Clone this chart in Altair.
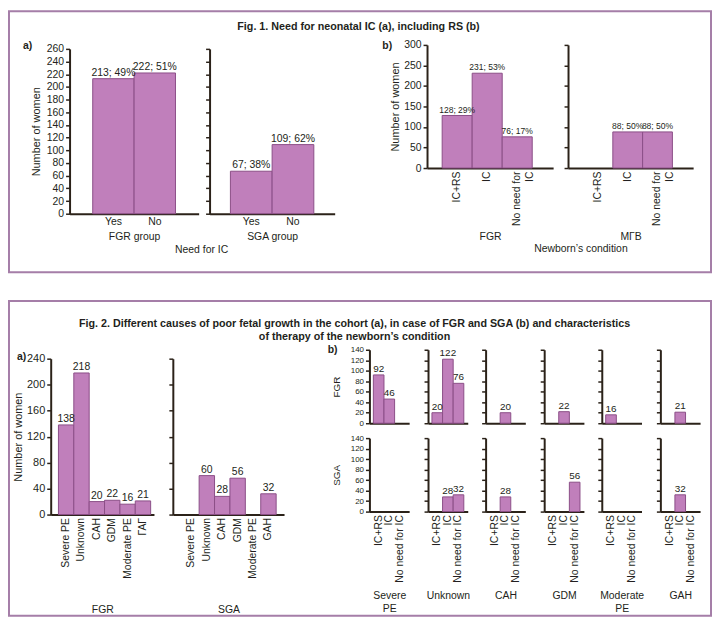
import altair as alt
import pandas as pd

# ---------------- data ----------------
fig1a_cats = ["Yes", "No"]
fig1a_fgr_n = [213, 222]
fig1a_fgr_pct = [49, 51]
fig1a_sga_n = [67, 109]
fig1a_sga_pct = [38, 62]

fig1b_cats = ["IC+RS", "IC", "No need for IC"]
fig1b_fgr_n = [128, 231, 76]
fig1b_fgr_pct = [29, 53, 17]
fig1b_mgv_n = [0, 88, 88]
fig1b_mgv_pct = [0, 50, 50]

fig2a_fgr_cats = ["Severe PE", "Unknown", "CAH", "GDM", "Moderate PE", "ГАГ"]
fig2a_fgr_n = [138, 218, 20, 22, 16, 21]
fig2a_sga_cats = ["Severe PE", "Unknown", "CAH", "GDM", "Moderate PE", "GAH"]
fig2a_sga_n = [0, 60, 28, 56, 0, 32]

fig2b_causes = ["Severe PE", "Unknown", "CAH", "GDM", "Moderate PE", "GAH"]
fig2b_cause_titles = [["Severe", "PE"], "Unknown", "CAH", "GDM", ["Moderate", "PE"], "GAH"]
fig2b_therapy = ["IC+RS", "IC", "No need for IC"]
fig2b_fgr_n = [[92, 46, 0], [20, 122, 76], [0, 20, 0], [0, 22, 0], [16, 0, 0], [0, 21, 0]]
fig2b_sga_n = [[0, 0, 0], [0, 28, 32], [0, 28, 0], [0, 0, 56], [0, 0, 0], [0, 32, 0]]

# ---------------- style ----------------
FONT = "Liberation Sans"
BAR_FILL = "#c07fbb"
BAR_STROKE = "#8b4f87"
AXIS = "#2b2219"
TEXT = "#231f20"
BORDER = "#a57ea8"

ONE = pd.DataFrame({"k": [0]})


def pct_labels(ns, ps):
    return [f"{n}; {p}%" for n, p in zip(ns, ps)]


def panel(cats, vals, labels, w, h, ymax, ystep, po=0.5, align=0.5, ylabels=True,
          ytitle=None, ytitle_pad=6, ytitle_size=11, xlabels=True, xangle=0, xtitle=None,
          xtitle_pad=4, label_expr=None, val_size=10.5, tick_size=10.5):
    df = pd.DataFrame({"cat": cats, "value": vals, "label": labels})
    xkw = dict(title=xtitle, labels=xlabels, ticks=False, labelAngle=xangle,
               titlePadding=xtitle_pad, domainWidth=2, domainColor=AXIS,
               labelFontSize=10.5, labelColor=TEXT, labelPadding=3,
               titleFontSize=10.5, titleFontWeight="normal", titleColor=TEXT,
               titleLineHeight=13)
    if label_expr:
        xkw["labelExpr"] = label_expr
    x = alt.X("cat:N", sort=cats,
              scale=alt.Scale(domain=cats, paddingInner=0, paddingOuter=po, align=align),
              axis=alt.Axis(**xkw))
    y = alt.Y("value:Q",
              scale=alt.Scale(domain=[0, ymax], nice=False, zero=True),
              axis=alt.Axis(values=list(range(0, ymax + 1, ystep)), labels=ylabels,
                            title=ytitle, titlePadding=ytitle_pad, tickSize=4, tickWidth=1.5,
                            tickColor=AXIS, domainWidth=2, domainColor=AXIS, grid=False,
                            labelFontSize=tick_size, labelColor=TEXT, labelPadding=2,
                            titleFontSize=ytitle_size, titleFontWeight="normal",
                            titleColor=TEXT))
    base = alt.Chart(df).encode(x=x, y=y).transform_filter("datum.value > 0")
    bars = base.mark_bar(fill=BAR_FILL, stroke=BAR_STROKE, strokeWidth=1)
    txt = base.mark_text(baseline="bottom", dy=-1, fontSize=val_size, color=TEXT,
                         font=FONT).encode(text="label:N")
    return alt.layer(bars, txt).properties(width=w, height=h)


def spacer(w, h):
    return alt.Chart(ONE).mark_point(opacity=0, size=0).encode(
        x=alt.value(0), y=alt.value(0)).properties(width=w, height=h)


def place(ch, dx, dy):
    row = alt.hconcat(spacer(dx, 1), ch, spacing=0, bounds="flush")
    return alt.vconcat(spacer(1, dy), row, spacing=0, bounds="flush")


split_expr = "datum.value == 'No need for IC' ? ['No need for', 'IC'] : datum.value"

placed = []

# ---- Fig. 1a ----
placed.append(place(panel(fig1a_cats, fig1a_fgr_n, pct_labels(fig1a_fgr_n, fig1a_fgr_pct),
                          130, 166, 260, 20, po=0.56, ytitle="Number of women",
                          ytitle_pad=5, xtitle="FGR group"), 60, 37))
placed.append(place(panel(fig1a_cats, fig1a_sga_n, pct_labels(fig1a_sga_n, fig1a_sga_pct),
                          126, 166, 260, 20, po=0.5, ylabels=False,
                          xtitle="SGA group"), 201, 37))

# ---- Fig. 1b ----
placed.append(place(panel(fig1b_cats, fig1b_fgr_n, pct_labels(fig1b_fgr_n, fig1b_fgr_pct),
                          127, 124, 300, 50, po=0.6, align=0.42, ytitle="Number of women",
                          ytitle_pad=3, xangle=-90, xtitle="FGR", xtitle_pad=6,
                          label_expr=split_expr, val_size=8.6), 420, 33))
placed.append(place(panel(fig1b_cats, fig1b_mgv_n, pct_labels(fig1b_mgv_n, fig1b_mgv_pct),
                          126, 124, 300, 50, po=0.6, align=0.42, ylabels=False,
                          xangle=-90, xtitle="МГВ", xtitle_pad=6,
                          label_expr=split_expr, val_size=8.6), 562, 33))

# ---- Fig. 2a ----
placed.append(place(panel(fig2a_fgr_cats, fig2a_fgr_n, [str(v) for v in fig2a_fgr_n],
                          104, 157, 240, 40, po=0.36, align=0.7, ytitle="Number of women",
                          ytitle_pad=3, xangle=-90, xtitle="FGR", xtitle_pad=26,
                          tick_size=11), 41, 349))
placed.append(place(panel(fig2a_sga_cats, fig2a_sga_n, [str(v) for v in fig2a_sga_n],
                          112, 157, 240, 40, po=0.61, align=0.58, ylabels=False,
                          xangle=-90, xtitle="SGA", xtitle_pad=26), 164, 349))

# ---- Fig. 2b ----
col_x = [362, 421, 479, 538, 596, 655]
for i, cause in enumerate(fig2b_causes):
    first = i == 0
    top = panel(fig2b_therapy, fig2b_fgr_n[i], [str(v) for v in fig2b_fgr_n[i]],
                40, 74, 140, 20, po=0.37, ylabels=first,
                ytitle="FGR" if first else None, ytitle_pad=9, ytitle_size=10,
                xlabels=False, val_size=10, tick_size=8)
    bot = panel(fig2b_therapy, fig2b_sga_n[i], [str(v) for v in fig2b_sga_n[i]],
                40, 74, 140, 20, po=0.37, ylabels=first,
                ytitle="SGA" if first else None, ytitle_pad=9, ytitle_size=10,
                xangle=-90, xtitle=fig2b_cause_titles[i], xtitle_pad=8, val_size=10,
                tick_size=8)
    placed.append(place(top, col_x[i], 340))
    placed.append(place(bot, col_x[i], 429))

# ---- decorations: frames, figure titles, panel letters, shared axis titles ----
def frame(x1, y1, x2, y2):
    return alt.Chart(ONE).mark_rect(fillOpacity=0, stroke=BORDER, strokeWidth=2).encode(
        x=alt.value(x1), x2=alt.value(x2), y=alt.value(y1), y2=alt.value(y2))


def label(text, x, y, bold=False, align="center", size=10.5):
    return alt.Chart(ONE).mark_text(text=text, font=FONT, fontSize=size, color=TEXT,
                                    fontWeight="bold" if bold else "normal", align=align,
                                    baseline="middle", lineHeight=13).encode(
        x=alt.value(x), y=alt.value(y))


decor = alt.layer(
    frame(-1, -1, 706, 262),
    frame(-1, 291, 706, 608),
    label("Fig. 1. Need for neonatal IC (a), including RS (b)", 351, 15, bold=True, size=10.8),
    label("a)", 13, 34, bold=True, align="left"),
    label("b)", 375, 34, bold=True, align="left"),
    label("Need for IC", 193, 240),
    label("Newborn’s condition", 575, 239),
    label(["Fig. 2. Different causes of poor fetal growth in the cohort (a), in case of FGR and SGA (b) and characteristics",
           "of therapy of the newborn’s condition"], 347, 314, bold=True, size=10.8),
    label("a)", 7, 347, bold=True, align="left"),
    label("b)", 320, 340, bold=True, align="left"),
).properties(width=1, height=1)

chart = alt.hconcat(*placed, decor, spacing=0, bounds="flush").properties(
    padding=0
).configure(font=FONT).configure_view(strokeWidth=0).configure_axis(
    labelFont=FONT, titleFont=FONT
).configure_text(font=FONT)

chart.save("out.html", embed_options={"renderer": "svg", "actions": False})
